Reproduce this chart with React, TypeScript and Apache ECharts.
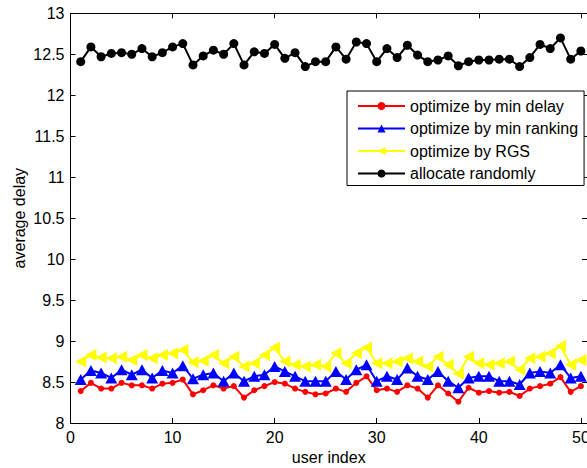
import React, { useEffect, useRef } from 'react';
import * as echarts from 'echarts';

const users = [1, 2, 3, 4, 5, 6, 7, 8, 9, 10, 11, 12, 13, 14, 15, 16, 17, 18, 19, 20, 21, 22, 23, 24, 25, 26, 27, 28, 29, 30, 31, 32, 33, 34, 35, 36, 37, 38, 39, 40, 41, 42, 43, 44, 45, 46, 47, 48, 49, 50];

const minDelay = [8.39, 8.49, 8.42, 8.42, 8.49, 8.46, 8.46, 8.42, 8.48, 8.49, 8.53, 8.35, 8.40, 8.46, 8.42, 8.45, 8.31, 8.40, 8.45, 8.50, 8.48, 8.42, 8.38, 8.35, 8.36, 8.42, 8.38, 8.49, 8.57, 8.40, 8.42, 8.38, 8.46, 8.42, 8.31, 8.46, 8.36, 8.26, 8.43, 8.37, 8.39, 8.37, 8.38, 8.33, 8.42, 8.45, 8.48, 8.56, 8.38, 8.45];

const minRanking = [8.53, 8.64, 8.61, 8.55, 8.65, 8.59, 8.65, 8.55, 8.64, 8.61, 8.70, 8.54, 8.59, 8.61, 8.51, 8.61, 8.51, 8.57, 8.59, 8.69, 8.63, 8.57, 8.51, 8.51, 8.51, 8.63, 8.53, 8.65, 8.71, 8.51, 8.57, 8.53, 8.67, 8.57, 8.53, 8.63, 8.51, 8.43, 8.55, 8.57, 8.57, 8.51, 8.51, 8.47, 8.61, 8.63, 8.61, 8.71, 8.55, 8.57];

const rgs = [8.75, 8.83, 8.80, 8.79, 8.81, 8.77, 8.83, 8.79, 8.83, 8.85, 8.89, 8.74, 8.76, 8.83, 8.73, 8.81, 8.69, 8.73, 8.83, 8.92, 8.75, 8.71, 8.69, 8.71, 8.69, 8.85, 8.73, 8.85, 8.92, 8.73, 8.73, 8.75, 8.79, 8.75, 8.69, 8.81, 8.71, 8.60, 8.81, 8.73, 8.71, 8.73, 8.75, 8.65, 8.79, 8.81, 8.85, 8.94, 8.71, 8.77];

const randomAlloc = [12.41, 12.59, 12.47, 12.51, 12.52, 12.50, 12.57, 12.47, 12.52, 12.59, 12.63, 12.37, 12.48, 12.55, 12.50, 12.63, 12.37, 12.53, 12.51, 12.62, 12.45, 12.52, 12.35, 12.41, 12.41, 12.59, 12.44, 12.65, 12.63, 12.41, 12.57, 12.46, 12.61, 12.49, 12.41, 12.43, 12.48, 12.36, 12.41, 12.43, 12.43, 12.44, 12.44, 12.35, 12.46, 12.62, 12.57, 12.70, 12.44, 12.54];

const seriesNames = ['optimize by min delay', 'optimize by min ranking', 'optimize by RGS', 'allocate randomly'];

const xMin = 0;
const xMax = 50.6;
const xInterval = 10;
const yMin = 8;
const yMax = 13;
const yInterval = 0.5;

export default function App() {
  const ref = useRef<HTMLDivElement>(null);
  useEffect(() => {
    document.body.style.margin = '0';
    const chart = echarts.init(ref.current!, null, { renderer: 'svg' });
    const pairs = (vals: number[]) => users.map((u, i) => [u, vals[i]]);
    const font = "'Liberation Sans', Arial, Helvetica, sans-serif";
    const lineAxis = { show: true, onZero: false, lineStyle: { color: '#000', width: 1 } };
    const tick = { show: true, inside: true, length: 5, lineStyle: { color: '#000', width: 1 } };
    chart.setOption({
      animation: false,
      backgroundColor: '#fff',
      textStyle: { fontFamily: font },
      grid: { left: 70.5, top: 13.3, right: 0, bottom: 45, containLabel: false, outerBoundsMode: 'none' },
      legend: {
        data: seriesNames,
        orient: 'vertical',
        left: 347,
        top: 91,
        padding: [7, 6, 4, 10],
        itemWidth: 47,
        itemHeight: 10,
        itemGap: 6.5,
        backgroundColor: '#fff',
        borderColor: '#000',
        borderWidth: 1,
        borderRadius: 0,
        textStyle: { fontFamily: font, fontSize: 16, color: '#000', lineHeight: 16 },
      },
      xAxis: [
        {
          type: 'value',
          min: xMin,
          max: xMax,
          interval: xInterval,
          position: 'bottom',
          name: 'user index',
          nameLocation: 'middle',
          nameGap: 26,
          nameMoveOverlap: false,
          nameTextStyle: { fontFamily: font, fontSize: 16, color: '#000' },
          axisLine: lineAxis,
          axisTick: tick,
          axisLabel: {
            fontFamily: font,
            fontSize: 16,
            color: '#000',
            margin: 6,
            formatter: (v: number) => (v % xInterval === 0 ? String(v) : ''),
          },
          splitLine: { show: false },
        },
        {
          type: 'value',
          min: xMin,
          max: xMax,
          interval: xInterval,
          position: 'top',
          axisLine: lineAxis,
          axisTick: tick,
          axisLabel: { show: false },
          splitLine: { show: false },
        },
      ],
      yAxis: [
        {
          type: 'value',
          min: yMin,
          max: yMax,
          interval: yInterval,
          position: 'left',
          name: 'average delay',
          nameLocation: 'middle',
          nameGap: 43,
          nameMoveOverlap: false,
          nameTextStyle: { fontFamily: font, fontSize: 16, color: '#000' },
          axisLine: lineAxis,
          axisTick: tick,
          axisLabel: { fontFamily: font, fontSize: 16, color: '#000', margin: 6 },
          splitLine: { show: false },
        },
        {
          type: 'value',
          min: yMin,
          max: yMax,
          interval: yInterval,
          position: 'right',
          axisLine: lineAxis,
          axisTick: tick,
          axisLabel: { show: false },
          splitLine: { show: false },
        },
      ],
      series: [
        {
          name: seriesNames[0],
          type: 'line',
          data: pairs(minDelay),
          symbol: 'circle',
          symbolSize: 6,
          lineStyle: { color: '#ff0000', width: 2 },
          itemStyle: { color: '#ff0000' },
        },
        {
          name: seriesNames[1],
          type: 'line',
          data: pairs(minRanking),
          symbol: 'triangle',
          symbolSize: [12, 11],
          lineStyle: { color: '#0000ff', width: 2 },
          itemStyle: { color: '#0000ff' },
        },
        {
          name: seriesNames[2],
          type: 'line',
          data: pairs(rgs),
          symbol: 'path://M0,5L10,0L10,10Z',
          symbolSize: [11, 12],
          lineStyle: { color: '#ffff00', width: 2 },
          itemStyle: { color: '#ffff00' },
        },
        {
          name: seriesNames[3],
          type: 'line',
          data: pairs(randomAlloc),
          symbol: 'circle',
          symbolSize: 9,
          lineStyle: { color: '#000', width: 2 },
          itemStyle: { color: '#000' },
        },
      ],
    });
    return () => chart.dispose();
  }, []);
  return <div ref={ref} style={{ width: 587, height: 468 }} />;
}
